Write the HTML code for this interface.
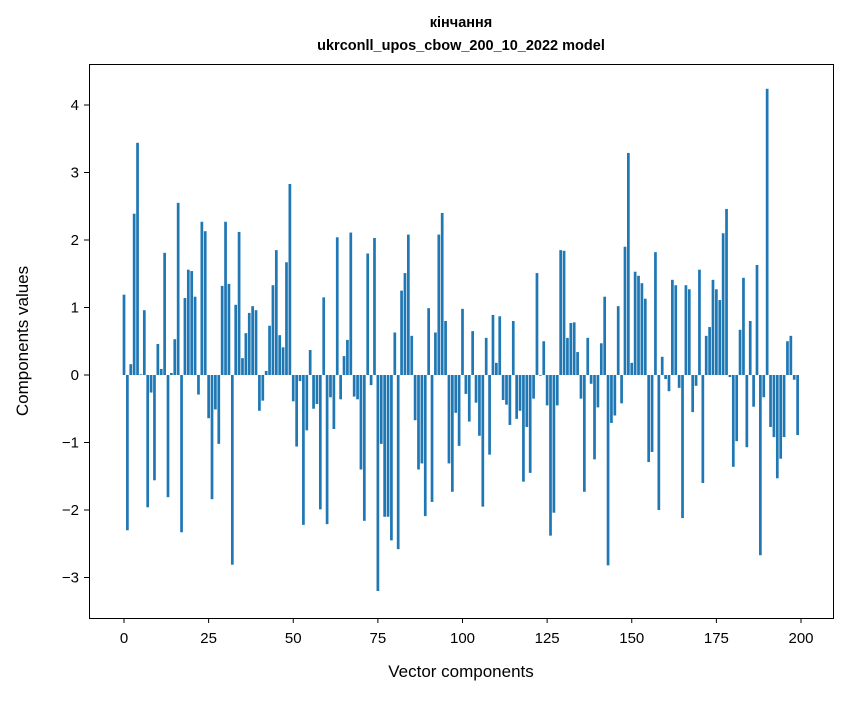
<!DOCTYPE html>
<html><head><meta charset="utf-8">
<style>
body{margin:0;background:#fff;}
svg text{font-family:"Liberation Sans","DejaVu Sans",sans-serif;fill:#000;}
</style></head>
<body>
<svg id="chart" width="847" height="696" viewBox="0 0 847 696" xmlns="http://www.w3.org/2000/svg">
<rect x="0" y="0" width="847" height="696" fill="#fff"/>
<text x="461" y="27" text-anchor="middle" font-size="14.5" font-weight="bold">кінчання</text>
<text x="461" y="50" text-anchor="middle" font-size="14.5" font-weight="bold">ukrconll_upos_cbow_200_10_2022 model</text>
<g id="bars"></g>
<g id="xticks"></g>
<g id="yticks"></g>
<rect x="89.5" y="64.5" width="744" height="554" fill="none" stroke="#000" stroke-width="1"/>
<text x="461" y="677" text-anchor="middle" font-size="17">Vector components</text>
<text x="28" y="341" text-anchor="middle" font-size="17" transform="rotate(-90 28 341)">Components values</text>
</svg>
<script>
const values = [
1.19,-2.30,0.16,2.39,3.44,0.01,0.96,-1.96,-0.26,-1.56,
0.46,0.09,1.81,-1.81,0.03,0.53,2.55,-2.33,1.14,1.56,
1.54,1.16,-0.29,2.27,2.13,-0.64,-1.84,-0.51,-1.02,1.32,
2.27,1.35,-2.81,1.04,2.12,0.25,0.62,0.92,1.02,0.96,
-0.53,-0.38,0.06,0.73,1.33,1.85,0.59,0.41,1.67,2.83,
-0.39,-1.06,-0.09,-2.22,-0.82,0.37,-0.50,-0.43,-1.99,1.15,
-2.21,-0.33,-0.80,2.04,-0.36,0.28,0.52,2.11,-0.32,-0.36,
-1.40,-2.16,1.80,-0.15,2.03,-3.20,-1.02,-2.10,-2.10,-2.45,
0.63,-2.58,1.25,1.51,2.08,0.58,-0.67,-1.40,-1.31,-2.09,
0.99,-1.88,0.63,2.08,2.40,0.80,-1.31,-1.73,-0.56,-1.05,
0.98,-0.28,-0.69,0.65,-0.41,-0.90,-1.95,0.55,-1.18,0.89,
0.18,0.87,-0.37,-0.44,-0.74,0.80,-0.65,-0.53,-1.58,-0.77,
-1.45,-0.35,1.51,-0.01,0.50,-0.45,-2.38,-2.04,-0.45,1.85,
1.84,0.55,0.77,0.78,0.34,-0.35,-1.73,0.55,-0.13,-1.25,
-0.48,0.47,1.16,-2.82,-0.71,-0.60,1.02,-0.42,1.90,3.29,
0.18,1.53,1.47,1.36,1.13,-1.29,-1.14,1.82,-2.00,0.27,
-0.06,-0.24,1.41,1.33,-0.19,-2.12,1.33,1.27,-0.55,-0.16,
1.56,-1.60,0.58,0.71,1.41,1.27,1.11,2.10,2.46,-0.03,
-1.36,-0.98,0.67,1.44,-1.07,0.80,-0.47,1.63,-2.67,-0.33,
4.24,-0.77,-0.92,-1.53,-1.24,-0.92,0.50,0.58,-0.07,-0.89
];
const xTickLabels = [0,25,50,75,100,125,150,175,200];
const yTickLabels = [-3,-2,-1,0,1,2,3,4];

const NS = "http://www.w3.org/2000/svg";
const xPix = v => 124 + (801 - 124) * v / 200;
const yPix = v => 375 - 67.5 * v;
const barW = 0.8 * (801 - 124) / 200;

const bars = document.getElementById('bars');
values.forEach((v, i) => {
  const r = document.createElementNS(NS, 'rect');
  
  
  const y0 = yPix(0), y1 = yPix(v);
  r.setAttribute('x', xPix(i) - barW / 2);
  r.setAttribute('y', Math.min(y0, y1));
  r.setAttribute('width', barW);
  r.setAttribute('height', Math.max(Math.abs(y1 - y0), 0.3));
  r.setAttribute('fill', '#1f77b4');
  bars.appendChild(r);
});

const xt = document.getElementById('xticks');
xTickLabels.forEach(t => {
  const x = xPix(t);
  const l = document.createElementNS(NS, 'line');
  
  
  l.setAttribute('x1', x); l.setAttribute('x2', x);
  l.setAttribute('y1', 618); l.setAttribute('y2', 623);
  l.setAttribute('stroke', '#000');
  xt.appendChild(l);
  const tx = document.createElementNS(NS, 'text');
  
  
  tx.setAttribute('x', x); tx.setAttribute('y', 643);
  tx.setAttribute('text-anchor', 'middle');
  tx.setAttribute('font-size', '15');
  tx.textContent = t;
  xt.appendChild(tx);
});

const yt = document.getElementById('yticks');
yTickLabels.forEach(t => {
  const y = yPix(t);
  const l = document.createElementNS(NS, 'line');
  
  
  l.setAttribute('x1', 84); l.setAttribute('x2', 89);
  l.setAttribute('y1', y); l.setAttribute('y2', y);
  l.setAttribute('stroke', '#000');
  yt.appendChild(l);
  const tx = document.createElementNS(NS, 'text');
  
  
  tx.setAttribute('x', 79); tx.setAttribute('y', y + 5);
  tx.setAttribute('text-anchor', 'end');
  tx.setAttribute('font-size', '15');
  tx.textContent = t < 0 ? '\u2212' + Math.abs(t) : String(t);
  yt.appendChild(tx);
});
</script>
</body></html>
